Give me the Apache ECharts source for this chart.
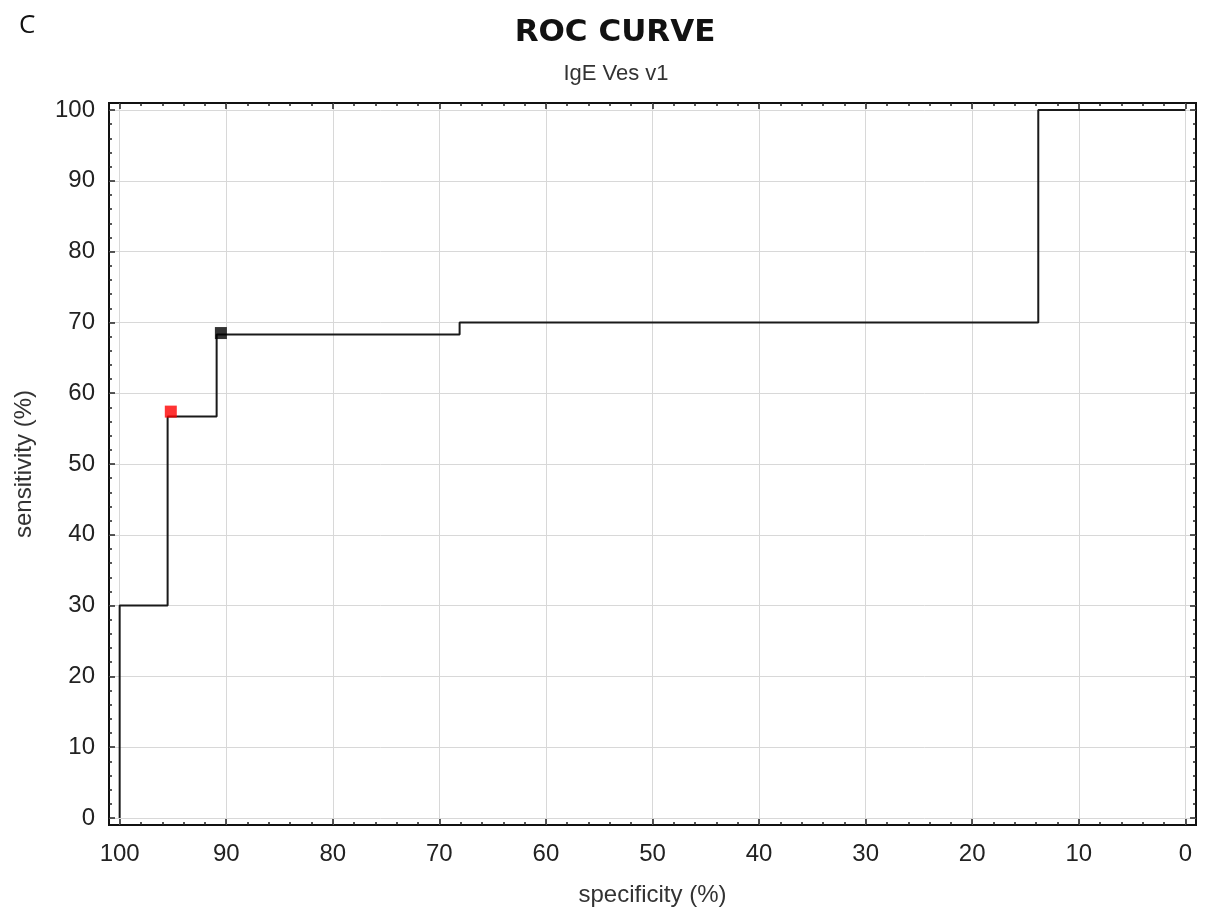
<!DOCTYPE html>
<html><head><meta charset="utf-8">
<script src="https://cdn.jsdelivr.net/npm/echarts@6/dist/echarts.min.js"></script>
<style>html,body{margin:0;padding:0;background:#fff}#c{width:1206px;height:917px}</style>
</head><body><div id="c"></div>
<script>
// ROC step curve vertices (specificity %, sensitivity %)
const specificity = [100, 100, 95.5, 95.5, 90.9, 90.9, 68.1, 68.1, 13.8, 13.8, 0];
const sensitivity = [0, 30, 30, 56.7, 56.7, 68.3, 68.3, 70, 70, 100, 100];
// highlighted cut-off points
const redPoint = [95.2, 57.4];
const blackPoint = [90.5, 68.5];
const majorTicks = [0, 10, 20, 30, 40, 50, 60, 70, 80, 90, 100];
const minorTicks = [2,4,6,8,12,14,16,18,22,24,26,28,32,34,36,38,42,44,46,48,52,54,56,58,62,64,66,68,72,74,76,78,82,84,86,88,92,94,96,98];

const font = 'Liberation Sans, Arial, sans-serif';
const lineData = specificity.map((s, i) => [s, sensitivity[i]]);

function mkX(position, major, opts) {
  return Object.assign({
    type: 'value', position: position, inverse: true, min: -1, max: 101,
    axisLine: { show: false, onZero: false },
    axisTick: { show: true, inside: true, length: major ? 6 : 3, customValues: major ? majorTicks : minorTicks, lineStyle: { color: '#222', width: 1.5 } },
    axisLabel: { show: false },
    splitLine: { show: false }
  }, opts || {});
}
function mkY(position, major, opts) {
  return Object.assign({
    type: 'value', position: position, min: -1, max: 101,
    axisLine: { show: false, onZero: false },
    axisTick: { show: true, inside: true, length: major ? 6 : 3, customValues: major ? majorTicks : minorTicks, lineStyle: { color: '#222', width: 1.5 } },
    axisLabel: { show: false },
    splitLine: { show: false }
  }, opts || {});
}

const chart = echarts.init(document.getElementById('c'));
chart.setOption({
  animation: false,
  backgroundColor: '#fff',
  title: [
    { text: 'ROC CURVE', left: 610, top: 12, textAlign: 'center',
      textStyle: { fontFamily: 'DejaVu Sans, Liberation Sans, sans-serif', fontSize: 31, fontWeight: 'bold', color: '#111' } },
    { text: 'IgE Ves v1', left: 611, top: 58, textAlign: 'center',
      textStyle: { fontFamily: font, fontSize: 22, fontWeight: 'normal', color: '#333' } },
    { text: 'C', left: 14, top: 8,
      textStyle: { fontFamily: 'Open Sans, Liberation Sans, sans-serif', fontSize: 26, fontWeight: 'normal', color: '#111' } }
  ],
  grid: { left: 109, right: 10, top: 103, bottom: 92, show: true, borderColor: '#111', borderWidth: 2, backgroundColor: 'transparent' },
  xAxis: [
    mkX('bottom', true, {
      name: 'specificity (%)', nameLocation: 'middle', nameGap: 58, nameMoveOverlap: false,
      nameTextStyle: { fontFamily: font, fontSize: 24, color: '#333' },
      axisLabel: { show: true, customValues: majorTicks, margin: 17, fontFamily: font, fontSize: 24, color: '#222' },
      splitLine: { show: true, lineStyle: { color: '#d8d8d8', width: 1 } }
    }),
    mkX('bottom', false),
    mkX('top', true),
    mkX('top', false)
  ],
  yAxis: [
    mkY('left', true, {
      name: 'sensitivity (%)', nameLocation: 'middle', nameGap: 73, nameMoveOverlap: false,
      nameTextStyle: { fontFamily: font, fontSize: 24, color: '#333' },
      axisLabel: { show: true, customValues: majorTicks, margin: 14, fontFamily: font, fontSize: 24, color: '#222' },
      splitLine: { show: true, lineStyle: { color: '#d8d8d8', width: 1 } }
    }),
    mkY('left', false),
    mkY('right', true),
    mkY('right', false)
  ],
  series: [
    { type: 'line', data: lineData, xAxisIndex: 0, yAxisIndex: 0, symbol: 'none',
      lineStyle: { color: '#1a1a1a', width: 2 }, z: 3 },
    { type: 'scatter', data: [redPoint], symbol: 'rect', symbolSize: 12,
      itemStyle: { color: '#ff0000' }, z: 4 },
    { type: 'scatter', data: [blackPoint], symbol: 'rect', symbolSize: 12,
      itemStyle: { color: '#000000' }, z: 4 }
  ]
});
</script>
</body></html>
